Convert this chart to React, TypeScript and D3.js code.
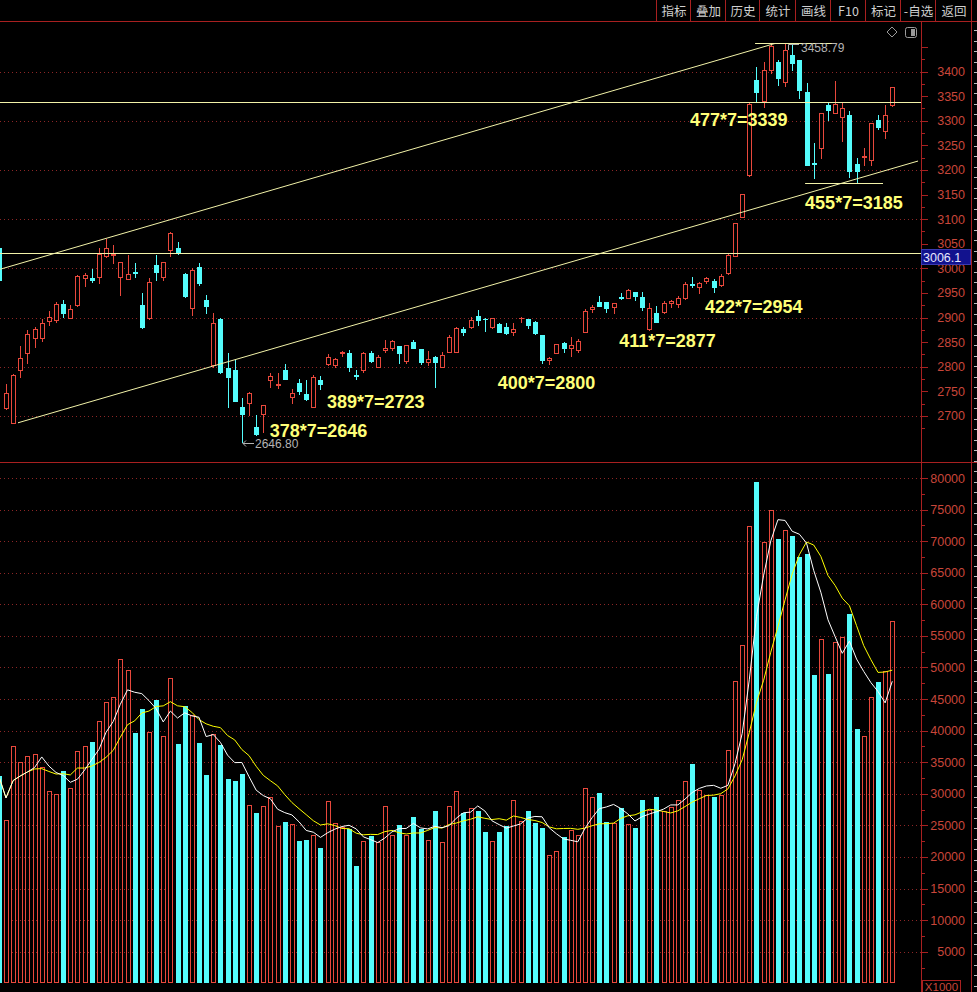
import * as d3 from 'd3';
import * as React from 'react';

// daily K-line, index 0 = leftmost (partly cut) candle
const opens = [
  3041, 2716, 2685, 2793, 2827, 2858, 2858, 2893, 2895, 2927,
  2900, 2925, 2981, 2981, 2983, 3024, 3027, 2982, 2978, 2993,
  2925, 2898, 3007, 2982, 3037, 3041, 2988, 2919, 3002, 2936,
  2803, 2896, 2797, 2793, 2719, 2727, 2677, 2704, 2773, 2762,
  2793, 2739, 2766, 2745, 2719, 2773, 2805, 2803, 2828, 2828,
  2784, 2793, 2828, 2799, 2834, 2837, 2842, 2812, 2851, 2835,
  2810, 2819, 2800, 2830, 2830, 2876, 2881, 2903, 2897, 2881,
  2887, 2881, 2871, 2898, 2896, 2891, 2864, 2814, 2827, 2848,
  2837, 2834, 2871, 2917, 2932, 2932, 2922, 2942, 2939, 2951,
  2941, 2876, 2909, 2912, 2930, 2927, 2939, 2968, 2961, 2974,
  2975, 2966, 2991, 3024, 3104, 3190, 3383, 3341, 3404, 3419,
  3379, 3434, 3423, 3359, 3215, 3244, 3332, 3315, 3307, 3312,
  3213, 3226, 3220, 3301, 3280, 3332,
];
const highs = [
  3045, 2765, 2785, 2842, 2875, 2881, 2896, 2913, 2932, 2936,
  2925, 2986, 2991, 2998, 3041, 3059, 3047, 3013, 3027, 3010,
  2949, 2980, 3027, 3013, 3074, 3054, 2991, 3000, 3011, 2946,
  2909, 2898, 2827, 2814, 2736, 2749, 2702, 2722, 2787, 2787,
  2805, 2754, 2774, 2773, 2784, 2781, 2825, 2818, 2831, 2834,
  2793, 2830, 2832, 2823, 2854, 2854, 2842, 2844, 2854, 2835,
  2832, 2822, 2829, 2865, 2881, 2881, 2902, 2915, 2898, 2900,
  2889, 2888, 2888, 2901, 2896, 2893, 2864, 2819, 2846, 2851,
  2860, 2856, 2918, 2925, 2944, 2932, 2930, 2949, 2958, 2951,
  2952, 2929, 2923, 2933, 2936, 2943, 2973, 2983, 2973, 2982,
  2978, 2988, 3029, 3093, 3152, 3336, 3410, 3420, 3457, 3423,
  3458.79, 3454, 3424, 3376, 3254, 3315, 3337, 3381, 3337, 3320,
  3224, 3244, 3295, 3311, 3332, 3368,
];
const lows = [
  2970, 2715, 2685, 2780, 2808, 2841, 2852, 2885, 2891, 2902,
  2900, 2923, 2964, 2973, 2970, 3022, 3010, 2946, 2978, 2983,
  2878, 2896, 2976, 2976, 3024, 3030, 2941, 2905, 2966, 2909,
  2800, 2787, 2719, 2731, 2646.8, 2702, 2661, 2668, 2759, 2756,
  2774, 2726, 2745, 2732, 2719, 2754, 2803, 2800, 2822, 2792,
  2774, 2790, 2810, 2799, 2830, 2834, 2808, 2808, 2837, 2806,
  2803, 2759, 2799, 2830, 2830, 2864, 2879, 2885, 2873, 2878,
  2871, 2866, 2864, 2891, 2878, 2866, 2807, 2805, 2827, 2830,
  2822, 2830, 2871, 2912, 2923, 2912, 2910, 2937, 2939, 2936,
  2915, 2875, 2891, 2910, 2922, 2922, 2937, 2961, 2950, 2971,
  2952, 2964, 2988, 3024, 3104, 3187, 3339, 3328, 3396, 3372,
  3370, 3404, 3347, 3210, 3183, 3224, 3302, 3315, 3259, 3186,
  3176, 3210, 3210, 3283, 3264, 3329,
];
const closes = [
  2976, 2746, 2783, 2817, 2866, 2876, 2889, 2902, 2927, 2909,
  2917, 2984, 2986, 2976, 3030, 3041, 3030, 3012, 2988, 2990,
  2881, 2973, 2993, 3012, 3072, 3034, 2944, 2997, 2970, 2923,
  2888, 2790, 2780, 2731, 2704, 2746, 2663, 2722, 2781, 2764,
  2774, 2746, 2751, 2734, 2780, 2765, 2820, 2815, 2830, 2799,
  2782, 2827, 2812, 2820, 2837, 2852, 2827, 2844, 2837, 2810,
  2815, 2810, 2824, 2861, 2878, 2871, 2895, 2895, 2896, 2898,
  2871, 2868, 2876, 2900, 2885, 2868, 2814, 2817, 2846, 2837,
  2844, 2853, 2914, 2922, 2923, 2919, 2930, 2939, 2956, 2944,
  2921, 2919, 2891, 2930, 2934, 2939, 2968, 2966, 2971, 2980,
  2963, 2984, 3027, 3093, 3152, 3334, 3359, 3404, 3452, 3386,
  3444, 3417, 3363, 3210, 3213, 3315, 3322, 3334, 3325, 3198,
  3198, 3229, 3295, 3288, 3312, 3368,
];
// volume in units of 1000 (axis is X1000)
const volumes = [
  32.8, 25.9, 37.6, 35.0, 36.0, 36.3, 34.3, 30.4, 29.9, 33.6,
  30.9, 36.8, 37.6, 38.2, 41.6, 44.5, 45.3, 51.3, 49.6, 39.7,
  43.4, 39.8, 44.9, 39.1, 48.3, 37.9, 43.9, 42.5, 38.0, 33.0,
  39.5, 37.7, 32.4, 32.1, 33.1, 28.3, 27.0, 28.1, 29.5, 24.9,
  25.6, 25.2, 22.6, 22.7, 23.5, 21.5, 28.9, 25.4, 24.8, 24.5,
  18.6, 22.6, 23.3, 22.4, 28.1, 23.5, 25.1, 23.5, 26.4, 24.5,
  22.7, 27.2, 22.4, 28.0, 30.4, 27.0, 27.7, 27.3, 24.0, 22.6,
  24.0, 24.9, 29.0, 25.7, 27.2, 25.3, 24.6, 20.3, 21.0, 23.1,
  24.2, 23.4, 30.9, 29.5, 30.2, 25.6, 25.4, 27.7, 25.2, 24.6,
  29.0, 27.5, 29.5, 27.3, 27.9, 29.0, 32.1, 34.7, 30.6, 29.8,
  29.5, 29.8, 37.0, 47.9, 53.6, 72.4, 79.4, 69.8, 75.0, 70.4,
  71.8, 70.8, 67.5, 68.0, 48.8, 54.5, 49.0, 54.1, 54.8, 58.5,
  40.3, 39.2, 45.3, 47.7, 49.5, 57.4,
];

const priceTicks = [2700, 2750, 2800, 2850, 2900, 2950, 3000, 3050, 3100, 3150, 3200, 3250, 3300, 3350, 3400];
const priceGrid = [2700, 2800, 2900, 3000, 3100, 3200, 3300, 3400];
const volTicks = [5, 10, 15, 20, 25, 30, 35, 40, 45, 50, 55, 60, 65, 70, 75, 80];
const toolButtons = ['指标', '叠加', '历史', '统计', '画线', 'F10', '标记', '-自选', '返回'];
const annotations = ['477*7=3339', '455*7=3185', '422*7=2954', '411*7=2877', '400*7=2800', '389*7=2723', '378*7=2646'];
const highMark = '3458.79';
const lowMark = '2646.80';
const cursorValue = '3006.1';

const W = 977;
const H = 992;
const AXIS_X = 921;
const RED = '#e8483c';
const CYAN = '#54fcfc';
const BORDER = '#a82020';
const GRID = '#8c2626';
const LABEL = '#c8463a';
const PALE = '#f2f2a8';

function movingAvg(arr: number[], n: number) {
  return arr.map((_, i) => {
    const s = arr.slice(Math.max(0, i - n + 1), i + 1);
    return d3.mean(s) as number;
  });
}

export default function App() {
  const x = d3.scaleLinear().domain([0, 125]).range([-1.15, 892.3]);
  const yP = d3.scaleLinear().domain([3000, 3400]).range([268.3, 71.5]);
  const yV = d3.scaleLinear().domain([0, 80]).range([983.3, 478]);

  const ma5 = movingAvg(volumes, 5);
  const ma10 = movingAvg(volumes, 10);
  const volLine = d3.line<number>().x((_, i) => x(i)).y((d) => yV(d));

  // annotation anchors: [index, price] of the left/middle of each label
  const annAnchors: [number, number][] = [
    [96.7, 3302], [112.8, 3134], [98.8, 2923], [86.8, 2854], [69.8, 2767], [45.9, 2729], [37.9, 2670],
  ];
  const toolEdges = [656, 690, 725, 759, 795, 830, 865, 900, 935, 971];

  const candles = opens.map((o, i) => {
    const c = closes[i];
    const up = c > o;
    const cx = Math.round(x(i));
    const top = Math.round(yP(Math.max(o, c)));
    const bot = Math.round(yP(Math.min(o, c)));
    const hi = Math.round(yP(highs[i]));
    const lo = Math.round(yP(lows[i]));
    const wx = cx + 0.5;
    if (bot - top < 1) {
      const col = up ? RED : CYAN;
      return (
        <g key={i} stroke={col}>
          <line x1={wx} x2={wx} y1={hi} y2={lo + 1} />
          <line x1={cx - 2} x2={cx + 3} y1={top + 0.5} y2={top + 0.5} />
        </g>
      );
    }
    if (up) {
      return (
        <g key={i} stroke={RED} fill="#000">
          <line x1={wx} x2={wx} y1={hi} y2={top} />
          <line x1={wx} x2={wx} y1={bot} y2={lo + 1} />
          <rect x={cx - 1.5} y={top + 0.5} width={4} height={bot - top} />
        </g>
      );
    }
    return (
      <g key={i}>
        <line x1={wx} x2={wx} y1={hi} y2={lo + 1} stroke={CYAN} />
        <rect x={cx - 2} y={top} width={5} height={bot - top + 1} fill={CYAN} />
      </g>
    );
  });

  const base = Math.round(yV(0));
  const bars = volumes.map((v, i) => {
    const up = closes[i] > opens[i];
    const cx = Math.round(x(i));
    const top = Math.round(yV(v));
    if (up) {
      return <rect key={i} x={cx - 1.5} y={top + 0.5} width={4} height={base - top - 1} fill="none" stroke={RED} />;
    }
    return <rect key={i} x={cx - 2} y={top} width={5} height={base - top} fill={CYAN} />;
  });

  const sideTicks: number[] = d3.range(30, 990, 10.5);
  const hiX = Math.round(x(110));
  const hiY = Math.round(yP(3458.79));
  const loX = Math.round(x(34));
  const loY = Math.round(yP(2646.8));

  return (
    <svg width={W} height={H} style={{ position: 'absolute', left: 0, top: 0, background: '#000' }}
      fontFamily="'Liberation Sans', Arial, sans-serif">
      <defs>
        <clipPath id="pclip"><rect x={0} y={22} width={AXIS_X} height={440} /></clipPath>
        <clipPath id="vclip"><rect x={0} y={463} width={AXIS_X} height={529} /></clipPath>
      </defs>
      <rect width={W} height={H} fill="#000" />

      {/* toolbar */}
      <line x1={0} x2={W} y1={21.5} y2={21.5} stroke={BORDER} />
      {toolEdges.map((e) => (
        <line key={e} x1={e + 0.5} x2={e + 0.5} y1={0} y2={21} stroke={BORDER} />
      ))}
      {toolButtons.map((t, i) => (
        <text key={t} x={(toolEdges[i] + toolEdges[i + 1]) / 2 + 1} y={15.5} textAnchor="middle" fill="#cfcfcf"
          fontSize={12.5} fontFamily="'Noto Sans CJK SC', sans-serif">{t}</text>
      ))}
      <path d="M892,27 L897,32 L892,37 L887,32 Z" fill="none" stroke="#9a9a9a" />
      <rect x={905.5} y={27.5} width={11} height={10} rx={2} fill="none" stroke="#9a9a9a" />
      <rect x={911} y={29} width={4} height={7} fill="#9a9a9a" />

      {/* panel frame */}
      <line x1={0} x2={W} y1={462.5} y2={462.5} stroke={BORDER} />
      <line x1={AXIS_X + 0.5} x2={AXIS_X + 0.5} y1={22} y2={H} stroke={BORDER} />
      <line x1={971.5} x2={971.5} y1={0} y2={H} stroke={BORDER} />
      {sideTicks.map((t) => (
        <line key={t} x1={974} x2={977} y1={Math.round(t) + 0.5} y2={Math.round(t) + 0.5} stroke="#bcbcbc" />
      ))}

      {/* price grid */}
      {priceGrid.map((p) => (
        <line key={p} x1={0} x2={AXIS_X} y1={Math.round(yP(p)) + 0.5} y2={Math.round(yP(p)) + 0.5}
          stroke={GRID} strokeDasharray="1 3" />
      ))}
      {/* volume grid */}
      {volTicks.map((v) => (
        <line key={v} x1={0} x2={AXIS_X} y1={Math.round(yV(v)) + 0.5} y2={Math.round(yV(v)) + 0.5}
          stroke={GRID} strokeDasharray="1 3" />
      ))}

      {/* price axis */}
      {d3.range(2675, 3451, 25).map((p) => (
        <line key={p} x1={AXIS_X + 1} x2={AXIS_X + (p % 50 === 0 ? 7 : 4)} y1={Math.round(yP(p)) + 0.5}
          y2={Math.round(yP(p)) + 0.5} stroke={BORDER} />
      ))}
      {priceTicks.map((p) => (
        <text key={p} x={965} y={yP(p)} dy="0.36em" textAnchor="end" fill={LABEL} fontSize={12.5}>{p}</text>
      ))}
      {/* volume axis */}
      {d3.range(2.5, 81, 2.5).map((v) => (
        <line key={v} x1={AXIS_X + 1} x2={AXIS_X + (v % 5 === 0 ? 7 : 4)} y1={Math.round(yV(v)) + 0.5}
          y2={Math.round(yV(v)) + 0.5} stroke={BORDER} />
      ))}
      {volTicks.map((v) => (
        <text key={v} x={965} y={yV(v)} dy="0.36em" textAnchor="end" fill={LABEL} fontSize={12.5}>{v * 1000}</text>
      ))}
      <rect x={922.5} y={980.5} width={38} height={12} fill="#000" stroke={BORDER} />
      <text x={941.5} y={990.5} textAnchor="middle" fill={LABEL} fontSize={11.5}>X1000</text>

      {/* price panel */}
      <g clipPath="url(#pclip)" shapeRendering="crispEdges">{candles}</g>
      <g clipPath="url(#pclip)" stroke={PALE} strokeWidth={1} fill="none">
        <line x1={x(0.16)} y1={yP(2998)} x2={x(108.6)} y2={yP(3457)} />
        <line x1={x(2.68)} y1={yP(2686)} x2={x(128.6)} y2={yP(3218)} />
        <line x1={0} x2={AXIS_X} y1={Math.round(yP(3337)) + 0.5} y2={Math.round(yP(3337)) + 0.5} />
        <line x1={0} x2={AXIS_X} y1={Math.round(yP(3031)) + 0.5} y2={Math.round(yP(3031)) + 0.5} />
        <line x1={x(105.8)} x2={x(117)} y1={Math.round(yP(3457)) + 0.5} y2={Math.round(yP(3457)) + 0.5} />
        <line x1={x(112.8)} x2={x(123.7)} y1={Math.round(yP(3173)) + 0.5} y2={Math.round(yP(3173)) + 0.5} />
      </g>
      {/* extreme price markers */}
      <path d={`M${hiX + 3.5},${hiY + 7} V${hiY + 1.5} H${hiX + 14}`} stroke="#b4b4b4" fill="none" />
      <text x={hiX + 16} y={hiY + 5} dy="0.36em" fill="#b4b4b4" fontSize={12}>{highMark}</text>
      <path d={`M${loX + 12},${loY + 1.5} H${loX + 1} M${loX + 4},${loY - 1.5} L${loX + 1},${loY + 1.5} L${loX + 4},${loY + 4.5}`}
        stroke="#b4b4b4" fill="none" />
      <text x={loX + 13} y={loY + 2} dy="0.36em" fill="#b4b4b4" fontSize={12}>{lowMark}</text>
      {annotations.map((t, k) => (
        <text key={t} x={x(annAnchors[k][0])} y={yP(annAnchors[k][1])} dy="0.36em" fill="#ffff78"
          fontSize={18} fontWeight="bold">{t}</text>
      ))}
      <rect x={921.5} y={249.5} width={49} height={15} fill="#12128e" stroke="#3a3ab0" />
      <text x={923} y={257.5} dy="0.36em" fill="#e6e6ff" fontSize={12.5}>{cursorValue}</text>

      {/* volume panel */}
      <g clipPath="url(#vclip)" shapeRendering="crispEdges">{bars}</g>
      <g clipPath="url(#vclip)" fill="none">
        <path d={volLine(ma10) || ''} stroke="#ffff00" />
        <path d={volLine(ma5) || ''} stroke="#ffffff" />
      </g>
    </svg>
  );
}
